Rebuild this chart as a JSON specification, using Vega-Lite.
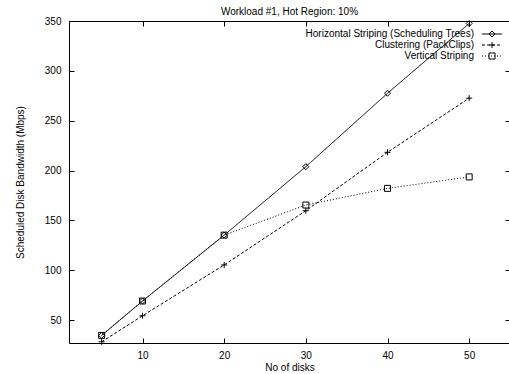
{
  "$schema": "https://vega.github.io/schema/vega-lite/v6.json",
  "autosize": "none",
  "width": 441,
  "height": 322,
  "padding": {"left": 69, "top": 21, "right": 0, "bottom": 31},
  "background": "white",
  "config": {
    "font": "Liberation Sans",
    "view": {"stroke": null},
    "axis": {"grid": false, "domainColor": "#000", "tickColor": "#000", "labelColor": "#000", "titleColor": "#000", "labelFont": "Liberation Sans", "titleFont": "Liberation Sans", "labelFontSize": 10, "titleFontSize": 10, "titleFontWeight": "normal", "tickSize": -5, "domainWidth": 1, "tickWidth": 1}
  },
  "title": {"text": "Workload #1, Hot Region: 10%", "fontSize": 10, "fontWeight": "normal", "font": "Liberation Sans", "color": "#000", "offset": -1, "anchor": "middle"},
  "data": {"values": [
    {"disks": 5, "bw": 34.6, "series": "Horizontal Striping (Scheduling Trees)"},
    {"disks": 10, "bw": 69.1, "series": "Horizontal Striping (Scheduling Trees)"},
    {"disks": 20, "bw": 135.2, "series": "Horizontal Striping (Scheduling Trees)"},
    {"disks": 30, "bw": 203.9, "series": "Horizontal Striping (Scheduling Trees)"},
    {"disks": 40, "bw": 277.5, "series": "Horizontal Striping (Scheduling Trees)"},
    {"disks": 50, "bw": 347.5, "series": "Horizontal Striping (Scheduling Trees)"},
    {"disks": 5, "bw": 28.2, "series": "Clustering (PackClips)"},
    {"disks": 10, "bw": 54.3, "series": "Clustering (PackClips)"},
    {"disks": 20, "bw": 105.3, "series": "Clustering (PackClips)"},
    {"disks": 30, "bw": 159.7, "series": "Clustering (PackClips)"},
    {"disks": 40, "bw": 218.3, "series": "Clustering (PackClips)"},
    {"disks": 50, "bw": 272.6, "series": "Clustering (PackClips)"},
    {"disks": 5, "bw": 34.6, "series": "Vertical Striping"},
    {"disks": 10, "bw": 69.1, "series": "Vertical Striping"},
    {"disks": 20, "bw": 135.2, "series": "Vertical Striping"},
    {"disks": 30, "bw": 165.4, "series": "Vertical Striping"},
    {"disks": 40, "bw": 182.1, "series": "Vertical Striping"},
    {"disks": 50, "bw": 193.6, "series": "Vertical Striping"}
  ]},
  "layer": [
    {
      "mark": {"type": "line", "color": "#000", "strokeWidth": 1},
      "encoding": {
        "x": {"field": "disks", "type": "quantitative", "scale": {"domain": [1, 55], "nice": false, "zero": false},
              "axis": {"title": "No of disks", "values": [10, 20, 30, 40, 50], "labelPadding": 12, "titlePadding": 2, "orient": "bottom"}},
        "y": {"field": "bw", "type": "quantitative", "scale": {"domain": [27, 350], "nice": false, "zero": false},
              "axis": {"title": "Scheduled Disk Bandwidth (Mbps)", "values": [50, 100, 150, 200, 250, 300, 350], "labelPadding": 13, "titlePadding": 19, "orient": "left"}},
        "strokeDash": {"field": "series", "type": "nominal",
          "scale": {"domain": ["Horizontal Striping (Scheduling Trees)", "Clustering (PackClips)", "Vertical Striping"], "range": [[1, 0], [3, 2], [1, 2]]},
          "legend": {"title": null, "orient": "none", "legendX": 418, "legendY": 8, "symbolType": "M-3,0H3", "symbolSize": 44, "symbolStrokeWidth": 1, "symbolStrokeColor": "#000", "labelAlign": "right", "labelOffset": -23, "labelLimit": 0, "labelFontSize": 10, "labelFont": "Liberation Sans", "labelColor": "#000", "rowPadding": 1, "padding": 0}}
      }
    },
    {
      "mark": {"type": "point", "filled": false, "color": "#000", "strokeWidth": 1, "size": 36, "opacity": 1},
      "encoding": {
        "x": {"field": "disks", "type": "quantitative", "axis": {"orient": "top", "title": null, "labels": false, "values": [10, 20, 30, 40, 50]}},
        "y": {"field": "bw", "type": "quantitative", "axis": {"orient": "right", "title": null, "labels": false, "values": [50, 100, 150, 200, 250, 300, 350]}},
        "shape": {"field": "series", "type": "nominal",
          "scale": {"domain": ["Horizontal Striping (Scheduling Trees)", "Clustering (PackClips)", "Vertical Striping"], "range": ["diamond", "M-1,0H1M0,-1V1", "square"]},
          "legend": {"title": null, "orient": "none", "legendX": 418, "legendY": 8, "symbolSize": 36, "symbolStrokeColor": "#000", "symbolFillColor": "transparent", "symbolStrokeWidth": 1, "labelOpacity": 0, "labelAlign": "right", "labelOffset": -23, "labelLimit": 0, "labelFontSize": 10, "labelFont": "Liberation Sans", "rowPadding": 1, "padding": 0}}
      }
    }
  ],
  "resolve": {"axis": {"x": "independent", "y": "independent"}, "legend": {"shape": "independent", "strokeDash": "independent"}}
}
